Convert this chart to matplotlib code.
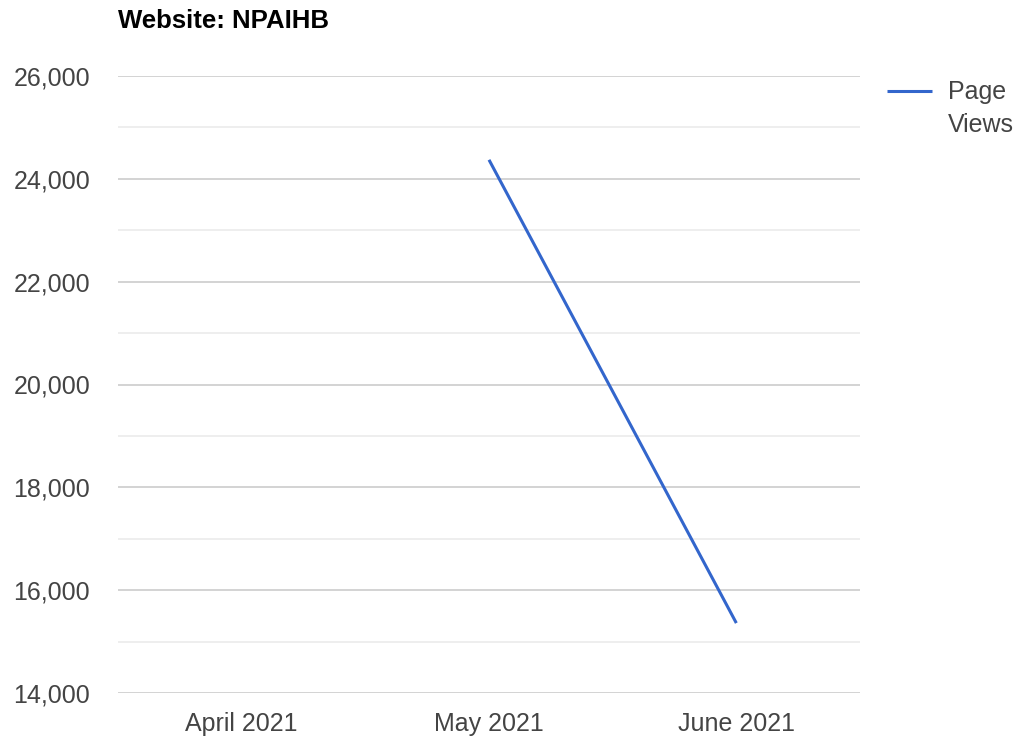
import numpy as np
import matplotlib
matplotlib.use("Agg")
import matplotlib.pyplot as plt
from matplotlib.ticker import FuncFormatter, MultipleLocator

plt.rcParams['font.family'] = ['Liberation Sans', 'DejaVu Sans']

months = ['April 2021', 'May 2021', 'June 2021']
page_views = [np.nan, 24370, 15360]

fig = plt.figure(figsize=(10.24, 7.44), dpi=100)
ax = fig.add_axes([118/1024, 1 - 693/744, (860-118)/1024, (693-76)/744])

x = np.arange(len(months))
ax.plot(x, page_views, color='#3366cc', lw=2.2, label='Page\nViews', solid_capstyle='butt')

ax.set_xlim(-0.5, 2.5)
ax.set_ylim(14000, 26000)
ax.set_xticks(x)
ax.set_xticklabels(months)
ax.yaxis.set_major_locator(MultipleLocator(2000))
ax.yaxis.set_minor_locator(MultipleLocator(1000))
ax.yaxis.set_major_formatter(FuncFormatter(lambda v, p: f'{int(v):,}'))

ax.grid(True, which='major', axis='y', color='#cccccc', lw=1.2)
ax.grid(True, which='minor', axis='y', color='#ebebeb', lw=1.2)
ax.set_axisbelow(True)
for s in ax.spines.values():
    s.set_visible(False)
ax.tick_params(axis='both', which='both', length=0, labelsize=18, labelcolor='#444444')
ax.tick_params(axis='y', pad=20)
ax.tick_params(axis='x', pad=13.5)

fig.text(118/1024, 1 - 21/744, 'Website: NPAIHB', fontsize=18.5, fontweight='bold',
         ha='left', va='center', color='#000000')

leg = fig.legend(loc='upper left', bbox_to_anchor=(887/1024, 1 - 80/744), frameon=False,
                 fontsize=18, handlelength=1.8, handletextpad=0.64,
                 borderaxespad=0, borderpad=0, labelspacing=0)
for t in leg.get_texts():
    t.set_color('#444444')
    t.set_linespacing(1.45)
# move the legend line up to the first text line, like Google Charts
hl = leg.get_lines()[0]
hl.set_ydata(np.asarray(hl.get_ydata()) + 13)

fig.savefig('out.png', dpi=100)
